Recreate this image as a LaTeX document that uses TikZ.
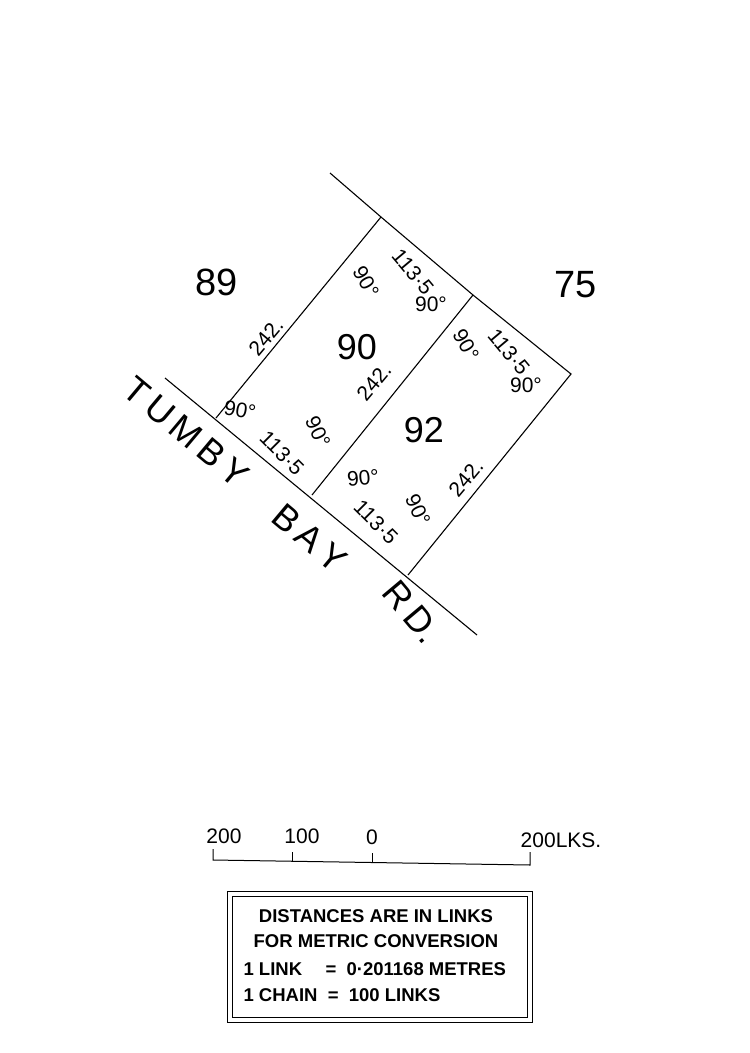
\documentclass[tikz,border=0pt]{standalone}
\usepackage{fontspec}
\setmainfont{Liberation Sans}
\begin{document}
\begin{tikzpicture}[x=1pt,y=-1pt,line width=1.1pt,
  big/.style={font=\fontsize{38}{40}\selectfont},
  lot/.style={font=\fontsize{36}{38}\selectfont},
  sm/.style={font=\fontsize{21}{22}\selectfont,inner sep=0pt},
  road/.style={font=\fontsize{36}{38}\selectfont,inner sep=0pt,rotate=-40},
  box/.style={font=\bfseries\fontsize{18.5}{20}\selectfont,inner sep=0pt}]
\useasboundingbox (0,0) rectangle (750,1053);
\coordinate (T) at (330,173);
\coordinate (A) at (381,217);
\coordinate (B) at (473,295);
\coordinate (C) at (571,374);
\coordinate (D) at (408,575);
\coordinate (E) at (312,495);
\coordinate (F) at (216,418);
\coordinate (R1) at (165,378);
\coordinate (R2) at (477,635);
\draw (T) -- (A) -- (B) -- (C) -- (D);
\draw (A) -- (F);
\draw (B) -- (E);
\draw (R1) -- (R2);
\node[big] (n89) at (217,282) {89};
\node[big] (n75) at (576,285) {75};
\node[lot] (n90) at (357,347) {90};
\node[lot] (n92) at (424,430) {92};
% lot 90
\node[sm,rotate=-50] (a1) at (413,272) {113\textperiodcentered5};
\node[sm,rotate=-60] (a2) at (366,282) {90°};
\node[sm] (a3) at (431,304) {90°};
\node[sm,rotate=50] (a4) at (266,337) {242.};
\node[sm,rotate=50] (a5) at (374,382) {242.};
\node[sm,rotate=-10] (a6) at (240,410) {90°};
\node[sm,rotate=-45] (a7) at (282,453) {113\textperiodcentered5};
\node[sm,rotate=-65] (a8) at (318,432) {90°};
% lot 92
\node[sm,rotate=-60] (b1) at (466,345) {90°};
\node[sm,rotate=-50] (b2) at (509,352) {113\textperiodcentered5};
\node[sm] (b3) at (526,385) {90°};
\node[sm,rotate=5] (b4) at (363,478) {90°};
\node[sm,rotate=-45] (b5) at (376,522) {113\textperiodcentered5};
\node[sm,rotate=-65] (b6) at (418,510) {90°};
\node[sm,rotate=50] (b7) at (466,478) {242.};
% road
\node[road] (r1) at (186,432) {T\,U\,M\,B\,Y};
\node[road] (r2) at (310,538) {B\,A\,Y};
\node[road,rotate=-10] (r3) at (412,612) {R\,D.};
% scale bar
\coordinate (S0) at (213,860);
\coordinate (S1) at (292,861);
\coordinate (S2) at (372,862);
\coordinate (S3) at (530,865);
\draw[line width=1pt] (213,849) -- (S0) -- (S3) -- (530,852);
\draw[line width=1pt] (S1) -- (292,852);
\draw[line width=1pt] (S2) -- (372,853);
\node[sm] (l200) at (224,836) {200};
\node[sm] (l100) at (302,836) {100};
\node[sm] (l0) at (372,837) {0};
\node[sm] (l200b) at (561,840) {200LKS.};
% box
\draw[line width=1pt] (227,891) rectangle (532,1022);
\draw[line width=1pt] (232,896) rectangle (527,1017);
\node[box] (t1) at (376,916) {DISTANCES ARE IN LINKS};
\node[box] (t2) at (376,941) {FOR METRIC CONVERSION};
\node[box,anchor=west] (t3) at (243,969) {1 LINK};
\node[box,anchor=west] (t3b) at (325,969) {= \ 0\textperiodcentered201168 METRES};
\node[box,anchor=west] (t4) at (243,995) {1 CHAIN \ = \ 100 LINKS};
\end{tikzpicture}
\end{document}
